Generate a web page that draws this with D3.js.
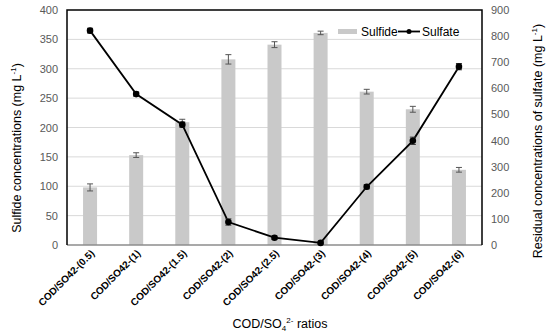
<!DOCTYPE html>
<html>
<head>
<meta charset="utf-8">
<script src="https://cdn.jsdelivr.net/npm/d3@7"></script>
<style>
  body { margin: 0; background: #fff; }
  text { font-family: "Liberation Sans", Arial, sans-serif; }
</style>
</head>
<body>
<svg id="chart" width="550" height="334"></svg>
<script>
const width = 550;
const height = 334;

// data
var categories = ["COD/SO42-(0.5)", "COD/SO42-(1)", "COD/SO42-(1.5)", "COD/SO42-(2)", "COD/SO42-(2.5)",
                  "COD/SO42-(3)", "COD/SO42-(4)", "COD/SO42-(5)", "COD/SO42-(6)"];
var sulfide = [98, 153, 209, 316, 341, 361, 261, 231, 128];
var sulfideErr = [6, 4, 5, 8, 5, 3, 4, 5, 4];
var sulfate = [821, 578, 461, 88, 28, 8, 223, 399, 683];
var sulfateErr = [9, 8, 10, 12, 6, 4, 8, 14, 12];
var leftTicks = [0, 50, 100, 150, 200, 250, 300, 350, 400];
var rightTicks = [0, 100, 200, 300, 400, 500, 600, 700, 800, 900];

var margin = {left: 67, right: 68, top: 10, bottom: 89};

var svg = d3.select("#chart");

var x = d3.scaleBand()
    .domain(categories)
    .range([margin.left, width - margin.right]);

var yL = d3.scaleLinear().domain([0, 400]).range([height - margin.bottom, margin.top]);
var yR = d3.scaleLinear().domain([0, 900]).range([height - margin.bottom, margin.top]);

var barW = 14;

// gridlines
svg.append("g")
    .selectAll("line")
    .data(leftTicks.slice(1, -1))
    .join("line")
    .attr("x1", margin.left).attr("x2", width - margin.right)
    .attr("y1", d => yL(d)).attr("y2", d => yL(d))
    .attr("stroke", "#d9d9d9").attr("stroke-width", 1);

// bars
svg.append("g")
    .selectAll("rect")
    .data(sulfide)
    .join("rect")
    .attr("x", (d, i) => x(categories[i]) + x.bandwidth() / 2 - barW / 2)
    .attr("width", barW)
    .attr("y", d => yL(d))
    .attr("height", d => yL(0) - yL(d))
    .attr("fill", "#c9c9c9");

// bar error bars
function errBars(g, vals, errs, scale, color) {
    vals.forEach(function (v, i) {
        var cx = x(categories[i]) + x.bandwidth() / 2;
        var t = scale(v + errs[i]), b = scale(v - errs[i]);
        g.append("line").attr("x1", cx).attr("x2", cx).attr("y1", t).attr("y2", b)
            .attr("stroke", color).attr("stroke-width", 1);
        [t, b].forEach(function (yy) {
            g.append("line").attr("x1", cx - 3).attr("x2", cx + 3).attr("y1", yy).attr("y2", yy)
                .attr("stroke", color).attr("stroke-width", 1);
        });
    });
}
errBars(svg.append("g"), sulfide, sulfideErr, yL, "#555");

// frame
svg.append("line").attr("x1", margin.left).attr("x2", width - margin.right)
    .attr("y1", yL(0)).attr("y2", yL(0)).attr("stroke", "#8c8c8c").attr("stroke-width", 1.5);
svg.append("path")
    .attr("d", "M" + margin.left + "," + yL(0) + "V" + margin.top + "H" + (width - margin.right) + "V" + yL(0))
    .attr("fill", "none").attr("stroke", "#000").attr("stroke-width", 1.5);

// sulfate line
var line = d3.line()
    .x((d, i) => x(categories[i]) + x.bandwidth() / 2)
    .y(d => yR(d));
svg.append("path").datum(sulfate)
    .attr("d", line).attr("fill", "none").attr("stroke", "#000").attr("stroke-width", 1.8);
errBars(svg.append("g"), sulfate, sulfateErr, yR, "#333");
svg.append("g").selectAll("circle").data(sulfate).join("circle")
    .attr("cx", (d, i) => x(categories[i]) + x.bandwidth() / 2)
    .attr("cy", d => yR(d)).attr("r", 3.3).attr("fill", "#000");

// left axis
var axL = svg.append("g").attr("transform", "translate(" + margin.left + ",0)")
    .call(d3.axisLeft(yL).tickValues(leftTicks).tickSize(0).tickPadding(9));
axL.select(".domain").remove();
axL.selectAll("text").attr("fill", "#595959").attr("font-size", 11)
    .style("font-family", "'Liberation Sans', Arial, sans-serif");

// right axis
var axR = svg.append("g").attr("transform", "translate(" + (width - margin.right) + ",0)")
    .call(d3.axisRight(yR).tickValues(rightTicks).tickSize(0).tickPadding(9));
axR.select(".domain").remove();
axR.selectAll("text").attr("fill", "#595959").attr("font-size", 11)
    .style("font-family", "'Liberation Sans', Arial, sans-serif");

// x labels
svg.append("g").selectAll("text").data(categories).join("text")
    .attr("transform", d => "translate(" + (x(d) + x.bandwidth() / 2 + 5) + "," + (yL(0) + 9) + ") rotate(-45)")
    .attr("text-anchor", "end")
    .attr("font-size", 10).attr("font-weight", "bold").attr("fill", "#000")
    .text(d => d);

// axis titles
svg.append("text")
    .attr("transform", "translate(21,148) rotate(-90)")
    .attr("text-anchor", "middle").attr("font-size", 12.5).attr("fill", "#000")
    .text("Sulfide concentrations (mg L")
    .append("tspan").attr("font-size", 8).attr("dy", -5).text("-1")
    .select(function () { return this.parentNode; })
    .append("tspan").attr("dy", 5).text(")");

svg.append("text")
    .attr("transform", "translate(542,141) rotate(-90)")
    .attr("text-anchor", "middle").attr("font-size", 12.5).attr("fill", "#000")
    .text("Residual concentrations of sulfate (mg L")
    .append("tspan").attr("font-size", 8).attr("dy", -5).text("-1")
    .select(function () { return this.parentNode; })
    .append("tspan").attr("dy", 5).text(")");

var xt = svg.append("text")
    .attr("x", 280).attr("y", 328)
    .attr("text-anchor", "middle").attr("font-size", 12.5).attr("fill", "#000");
xt.append("tspan").text("COD/SO");
xt.append("tspan").attr("font-size", 8).attr("dy", 3).text("4");
xt.append("tspan").attr("font-size", 8).attr("dy", -8).text("2-");
xt.append("tspan").attr("dy", 5).text(" ratios");

// legend
var lg = svg.append("g");
lg.append("rect").attr("x", 338).attr("y", 29).attr("width", 19).attr("height", 5).attr("fill", "#c9c9c9");
lg.append("text").attr("x", 361).attr("y", 35.5).attr("font-size", 12).attr("fill", "#000").text("Sulfide");
lg.append("line").attr("x1", 398).attr("x2", 420).attr("y1", 31.5).attr("y2", 31.5)
    .attr("stroke", "#000").attr("stroke-width", 1.8);
lg.append("circle").attr("cx", 409).attr("cy", 31.5).attr("r", 2.5).attr("fill", "#000");
lg.append("text").attr("x", 422).attr("y", 35.5).attr("font-size", 12).attr("fill", "#000").text("Sulfate");
</script>
</body>
</html>
